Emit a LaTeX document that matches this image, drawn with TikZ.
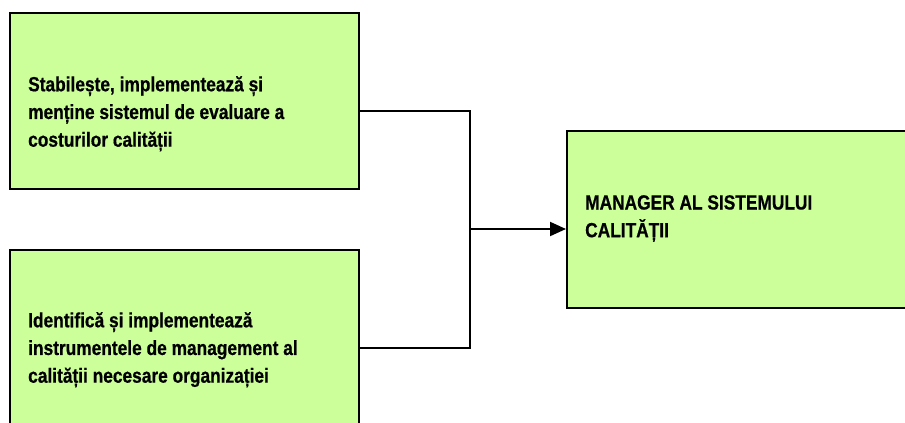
\documentclass[tikz,border=0pt]{standalone}
\usepackage{fontspec}
\setmainfont{Liberation Sans}[FakeStretch=0.845, BoldFeatures={FakeBold=0.6}]
\usetikzlibrary{arrows.meta,calc}
\definecolor{boxgreen}{HTML}{CCFF99}

\begin{document}
\begin{tikzpicture}[x=1pt,y=-1pt,
    boxes/.style={draw=black, fill=boxgreen, line width=2pt, minimum width=349pt},
    labels/.style={align=left, inner sep=0pt, anchor=north west, font=\fontsize{20.5}{27.7}\selectfont\bfseries},
    conn/.style={line width=2pt}]

    \useasboundingbox (0,0) rectangle (905,423);

    \node[boxes,minimum height=176pt] (A) at (184.5,101) {};
    \node[boxes,minimum height=196pt] (B) at (184.5,348) {};
    \node[boxes,minimum height=177pt,minimum width=350pt] (C) at (742,219.5) {};

    \node[labels,xshift=19pt,yshift=-64pt] (tA) at (A.north west) {Stabilește, implementează și\\menține sistemul de evaluare a\\costurilor calității};
    \node[labels,xshift=19pt,yshift=-63pt] (tB) at (B.north west) {Identifică și implementează\\instrumentele de management al\\calității necesare organizației};
    \node[labels,xshift=19pt,yshift=-65pt] (tC) at (C.north west) {MANAGER AL SISTEMULUI\\CALITĂȚII};

    \coordinate (J) at (470,229);
    \draw[conn] ([yshift=-10pt]A.east) -| (J);
    \draw[conn] (B.east) -| (J);
    \draw[conn,-{Triangle[length=16pt,width=14pt]}] (J) -- (J -| C.west);
\end{tikzpicture}
\end{document}
